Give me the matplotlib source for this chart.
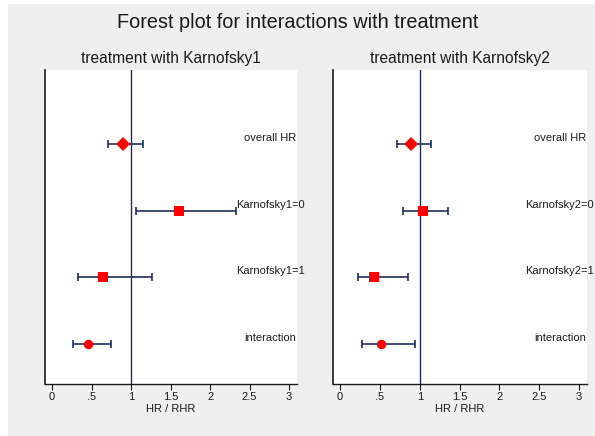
import matplotlib
matplotlib.use("Agg")
import matplotlib.pyplot as plt
from matplotlib.patches import Rectangle

plt.rcParams['font.family'] = ['Liberation Sans', 'DejaVu Sans']

row_labels_1 = ["overall HR", "Karnofsky1=0", "Karnofsky1=1", "interaction"]
row_labels_2 = ["overall HR", "Karnofsky2=0", "Karnofsky2=1", "interaction"]
row_pos = [4, 3, 2, 1]
markers = ["D", "s", "s", "o"]

est_1 = [0.90, 1.60, 0.64, 0.45]
lo_1 = [0.71, 1.06, 0.33, 0.27]
hi_1 = [1.15, 2.33, 1.26, 0.75]

est_2 = [0.89, 1.04, 0.43, 0.51]
lo_2 = [0.71, 0.79, 0.22, 0.28]
hi_2 = [1.14, 1.35, 0.85, 0.94]

xticks = [0, 0.5, 1, 1.5, 2, 2.5, 3]
xtick_labels = ["0", ".5", "1", "1.5", "2", "2.5", "3"]

title = "Forest plot for interactions with treatment"
subtitles = ["treatment with Karnofsky1", "treatment with Karnofsky2"]
xlabel = "HR / RHR"

W, H = 595, 436
fig = plt.figure(figsize=(W / 100, H / 100), dpi=100)
fig.patch.set_facecolor("white")
fig.patches.append(Rectangle((8 / W, 0), 1 - 8 / W, 1 - 4 / H, transform=fig.transFigure,
                             facecolor="#efefef", edgecolor="none", zorder=-10))

line_col = "#1f2d5c"
axes_boxes = [(45, 297), (333, 587)]
top_px, bot_px = 70, 384

data = [(row_labels_1, est_1, lo_1, hi_1), (row_labels_2, est_2, lo_2, hi_2)]

for (x0, x1), (labels, est, lo, hi), sub in zip(axes_boxes, data, subtitles):
    ax = fig.add_axes([x0 / W, 1 - bot_px / H, (x1 - x0) / W, (bot_px - top_px) / H])
    ax.set_facecolor("white")
    ax.axvline(1, color=line_col, lw=1.0, zorder=1)
    for y, e, l, h, m, lab in zip(row_pos, est, lo, hi, markers, labels):
        ax.errorbar([e], [y], xerr=[[e - l], [h - e]], fmt="none", ecolor=line_col,
                    elinewidth=1.2, capsize=3, capthick=1.2, zorder=2)
        ms = {"D": 7.5, "s": 7, "o": 6.8}[m]
        ax.plot([e], [y], marker=m, color="#ff0000", markersize=ms, linestyle="none", zorder=3,
                markeredgewidth=0)
        ax.text(2.76, y + 0.09, lab, ha="center", va="center", fontsize=8,
                color="#1a1a1a", clip_on=False, zorder=4)
    ax.set_xlim(-0.09, 3.1)
    ax.set_ylim(0.4, 5.11)
    ax.set_yticks([])
    ax.set_xticks(xticks)
    ax.set_xticklabels(xtick_labels, fontsize=8)
    ax.tick_params(axis="x", length=4, width=0.8, pad=2, colors="#1a1a1a")
    for s in ["top", "right"]:
        ax.spines[s].set_visible(False)
    ax.spines["left"].set_linewidth(1.2)
    ax.spines["bottom"].set_linewidth(1.0)
    ax.spines["left"].set_color("#1a1a1a")
    ax.spines["bottom"].set_color("#1a1a1a")
    ax.set_xlabel(xlabel, fontsize=8, labelpad=1, color="#1a1a1a")
    ax.set_title(sub, fontsize=11.2, pad=5, color="#1a1a1a")

fig.text(0.5, 1 - 22 / H, title, ha="center", va="center", fontsize=14.3, color="#1a1a1a")

fig.savefig("out.png", dpi=100, facecolor=fig.get_facecolor())
